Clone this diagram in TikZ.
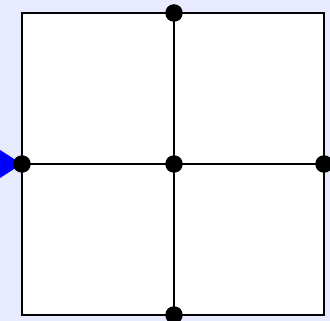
\documentclass[tikz,border=0pt]{standalone}
\definecolor{bgl}{RGB}{232,235,255}
\tikzset{
  dot/.style={circle,fill=black,inner sep=0pt,minimum size=17pt},
  edge/.style={line width=1.9pt,black},
}
\begin{document}
\begin{tikzpicture}[x=1pt,y=-1pt]
\fill[bgl] (0,0) rectangle (330,321);
\useasboundingbox (0,0) rectangle (330,321);
\fill[white] (22,13) rectangle (324,315);
\fill[blue] (0,150) -- (22,164) -- (0,178) -- cycle;
\coordinate (tl) at (22,13);
\coordinate (br) at (324,315);
\node[dot] (t) at (174,13) {};
\node[dot] (l) at (22,164) {};
\node[dot] (c) at (174,164) {};
\node[dot] (r) at (324,164) {};
\node[dot] (b) at (174,315) {};
\draw[edge] (tl) rectangle (br);
\draw[edge] (t.center) -- (b.center);
\draw[edge] (l.center) -- (r.center);
\foreach \n in {t,l,c,r,b} \fill (\n) circle (8.7);
\end{tikzpicture}
\end{document}
